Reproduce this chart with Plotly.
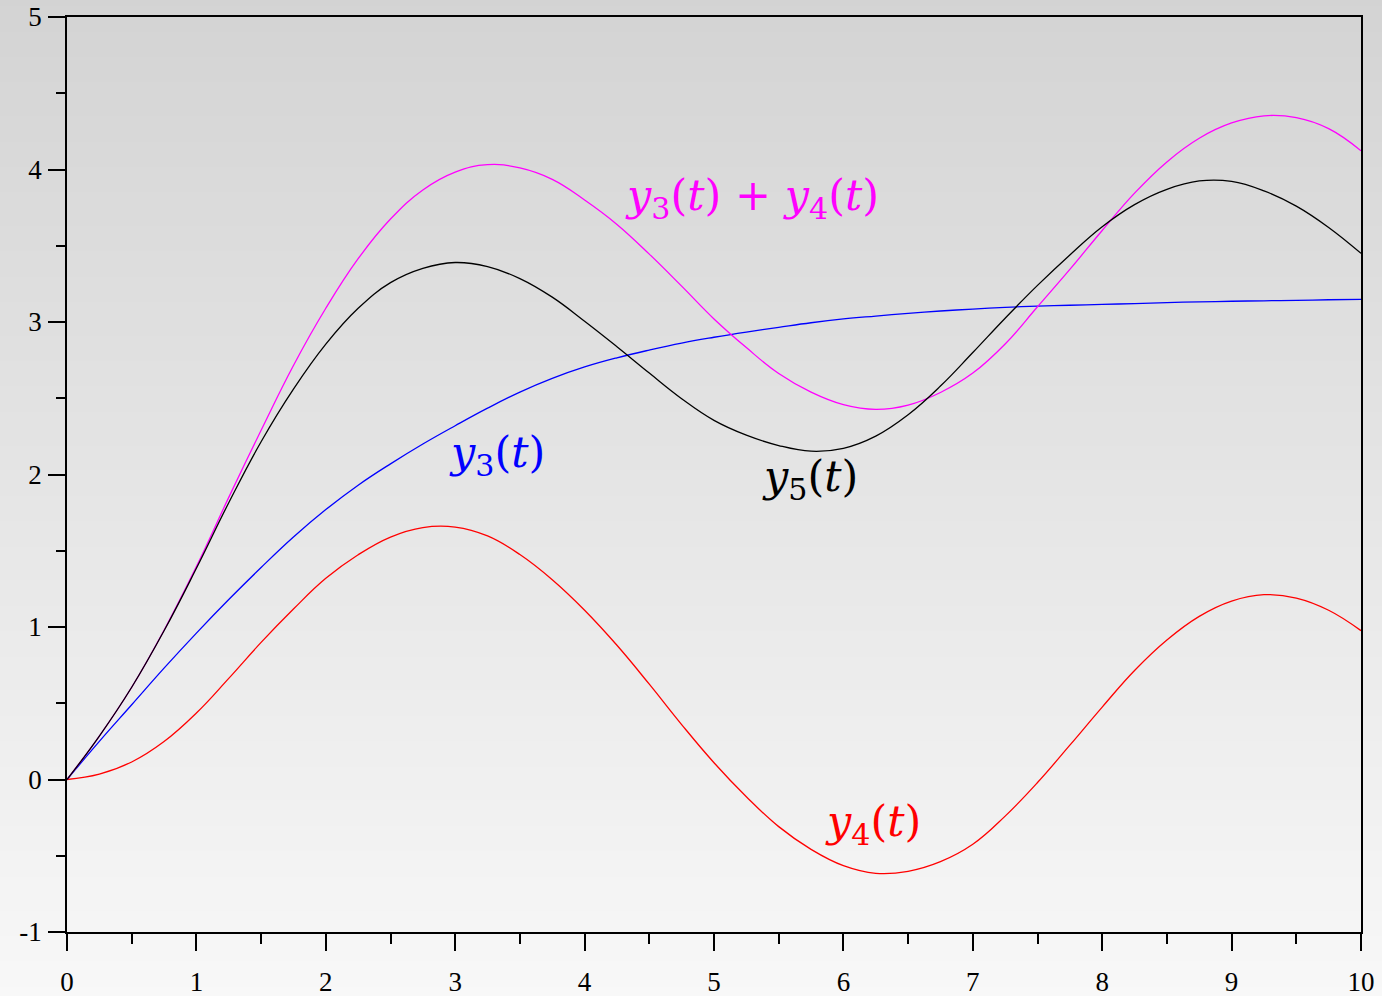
import plotly.graph_objects as go

t = [0, 0.25, 0.5, 0.75, 1.0, 1.25, 1.5, 1.75, 2.0, 2.25, 2.5, 2.75, 3.0, 3.25, 3.5, 3.75,
     4.0, 4.25, 4.5, 4.75, 5.0, 5.25, 5.5, 5.75, 6.0, 6.25, 6.5, 6.75, 7.0, 7.25, 7.5, 7.75,
     8.0, 8.25, 8.5, 8.75, 9.0, 9.25, 9.5, 9.75, 10.0]

y3 = [0, 0.25, 0.49, 0.73, 0.96, 1.18, 1.39, 1.59, 1.77, 1.93, 2.07, 2.20, 2.32, 2.435, 2.54, 2.63,
      2.705, 2.765, 2.816, 2.862, 2.90, 2.934, 2.965, 2.995, 3.02, 3.039, 3.057, 3.072, 3.085, 3.096,
      3.104, 3.11, 3.115, 3.121, 3.127, 3.132, 3.136, 3.139, 3.142, 3.146, 3.149]

y4 = [0, 0.035, 0.115, 0.249, 0.436, 0.663, 0.899, 1.118, 1.319, 1.474, 1.59, 1.652, 1.655, 1.597,
      1.475, 1.31, 1.11, 0.88, 0.625, 0.36, 0.11, -0.113, -0.309, -0.458, -0.565, -0.615, -0.602,
      -0.539, -0.425, -0.24, -0.02, 0.225, 0.475, 0.715, 0.915, 1.07, 1.17, 1.212, 1.19, 1.11, 0.976]

y3_plus_y4 = [0, 0.285, 0.605, 0.979, 1.396, 1.85, 2.29, 2.715, 3.09, 3.415, 3.675, 3.866, 3.983,
              4.032, 4.01, 3.935, 3.80, 3.64, 3.445, 3.235, 3.02, 2.832, 2.662, 2.54, 2.458, 2.427,
              2.455, 2.538, 2.665, 2.856, 3.10, 3.345, 3.60, 3.845, 4.05, 4.205, 4.305, 4.352, 4.34,
              4.268, 4.123]

y5 = [0, 0.285, 0.605, 0.975, 1.385, 1.815, 2.215, 2.56, 2.855, 3.09, 3.258, 3.352, 3.39, 3.363,
      3.285, 3.163, 3.005, 2.838, 2.665, 2.497, 2.355, 2.258, 2.19, 2.153, 2.172, 2.252, 2.392,
      2.58, 2.80, 3.025, 3.24, 3.44, 3.625, 3.77, 3.87, 3.925, 3.922, 3.86, 3.76, 3.62, 3.45]

x_ticks = [0, 1, 2, 3, 4, 5, 6, 7, 8, 9, 10]
y_ticks = [-1, 0, 1, 2, 3, 4, 5]

W, H = 1382, 996
ML, MR, MT, MB = 67, 21, 17, 64

fig = go.Figure()

series = [
    (y3, "#0000ff", "y3"),
    (y4, "#ff0000", "y4"),
    (y3_plus_y4, "#ff00ff", "y3+y4"),
    (y5, "#000000", "y5"),
]
for ys, col, name in series:
    fig.add_trace(go.Scatter(x=t, y=ys, mode="lines", name=name,
                             line=dict(color=col, width=1.3, shape="spline", smoothing=1.2),
                             showlegend=False, hoverinfo="skip"))

# background vertical gradient built from thin strips
shapes = []
n = 120
ph = H - MT - MB
y_bot = -MB / ph - 0.01
y_top = (H - MB) / ph + 0.01
top_c, bot_c = 211, 248
for i in range(n):
    f0 = i / n
    f1 = (i + 1) / n
    yy0 = y_top - (y_top - y_bot) * f0
    yy1 = y_top - (y_top - y_bot) * f1
    c = round(top_c + (bot_c - top_c) * (f0 + f1) / 2)
    shapes.append(dict(type="rect", xref="paper", yref="paper", x0=-0.1, x1=1.1,
                       y0=yy1, y1=yy0 + 0.002, fillcolor=f"rgb({c},{c},{c})",
                       line=dict(width=0), layer="below"))

label_font = "Liberation Serif, Times New Roman, serif"
math_font = "DejaVu Serif, serif"
annotations = [
    dict(x=5.294, y=3.813, text="<i>y</i><sub>3</sub>(<i>t</i>) + <i>y</i><sub>4</sub>(<i>t</i>)",
         color="#ff00ff"),
    dict(x=3.323, y=2.128, text="<i>y</i><sub>3</sub>(<i>t</i>)", color="#0000ff"),
    dict(x=5.742, y=1.970, text="<i>y</i><sub>5</sub>(<i>t</i>)", color="#000000"),
    dict(x=6.229, y=-0.292, text="<i>y</i><sub>4</sub>(<i>t</i>)", color="#ff0000"),
]
ann = []
for a in annotations:
    ann.append(dict(x=a["x"], y=a["y"], xref="x", yref="y", text=a["text"], showarrow=False,
                    xanchor="center", yanchor="middle",
                    font=dict(family=math_font, size=43, color=a["color"])))

axis_common = dict(showline=True, linecolor="black", linewidth=1.8, mirror=True,
                   ticks="outside", ticklen=17, tickwidth=1.6, tickcolor="black",
                   showgrid=False, zeroline=False, automargin=False,
                   tickfont=dict(family=label_font, size=27, color="black"))

fig.update_layout(
    width=W, height=H,
    margin=dict(l=ML, r=MR, t=MT, b=MB, pad=0),
    paper_bgcolor="rgb(230,230,230)",
    plot_bgcolor="rgba(0,0,0,0)",
    shapes=shapes,
    annotations=ann,
    xaxis=dict(range=[0, 10], tickvals=x_ticks, ticktext=[str(v) for v in x_ticks],
               ticklabelstandoff=8,
               minor=dict(dtick=0.5, ticks="outside", ticklen=10, tickwidth=1.6, tickcolor="black"),
               **axis_common),
    yaxis=dict(range=[-1, 5], tickvals=y_ticks, ticktext=[str(v) for v in y_ticks],
               ticklabelstandoff=1,
               minor=dict(dtick=0.5, ticks="outside", ticklen=9, tickwidth=1.6, tickcolor="black"),
               **axis_common),
)

fig.write_html("out.html", config={"displayModeBar": False},
               post_script="document.body.style.margin='0';document.body.style.overflow='hidden';")
